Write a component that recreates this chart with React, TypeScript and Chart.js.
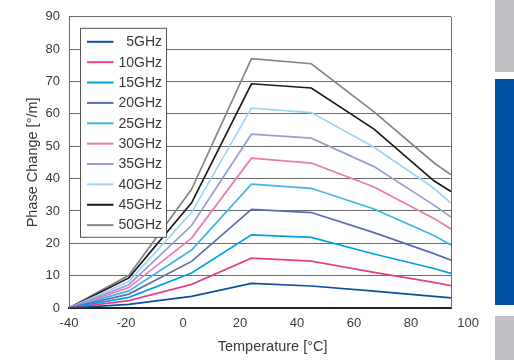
import React, { useEffect, useRef } from "react";
import { Chart, registerables } from "chart.js";

Chart.register(...registerables);

// ---- data ----
const temperatures = [-40, -19, 3, 24, 45, 67, 88, 94];
const seriesLabels = ["5GHz", "10GHz", "15GHz", "20GHz", "25GHz", "30GHz", "35GHz", "40GHz", "45GHz", "50GHz"];
const seriesColors = ["#0b4f9f", "#e6418b", "#00a2df", "#5a6db2", "#3db6e9", "#ee78ae", "#939fd6", "#a0d4f2", "#1a1a1a", "#858585"];
const s5 = [0, 1.1, 3.6, 7.6, 6.8, 5.2, 3.6, 3.1];
const s10 = [0, 2.3, 7.3, 15.4, 14.5, 11.0, 7.9, 6.9];
const s15 = [0, 3.3, 10.8, 22.6, 21.8, 16.7, 12.2, 10.7];
const s20 = [0, 4.3, 14.4, 30.5, 29.5, 23.3, 16.8, 14.8];
const s25 = [0, 5.3, 17.9, 38.3, 37.0, 30.6, 22.4, 19.5];
const s30 = [0, 6.3, 21.6, 46.3, 44.8, 37.4, 27.7, 24.4];
const s35 = [0, 7.2, 25.5, 53.7, 52.5, 43.7, 31.8, 28.1];
const s40 = [0, 8.2, 29.5, 61.8, 60.4, 49.7, 37.0, 32.4];
const s45 = [0, 9.3, 32.5, 69.3, 68.0, 55.3, 39.3, 36.0];
const s50 = [0, 10.1, 36.7, 77.1, 75.5, 60.6, 44.9, 41.2];
const seriesValues = [s5, s10, s15, s20, s25, s30, s35, s40, s45, s50];
const xTickValues = [-40, -20, 0, 20, 40, 60, 80, 100];
const yMin = 0;
const yMax = 90;
const yStep = 10;
const xMin = -40;
const xMax = 94;
const xTitle = "Temperature [°C]";
const yTitle = "Phase Change [°/m]";

const FONT = "'Liberation Sans', Arial, Helvetica, sans-serif";
const TEXT = "#3a3a3a";
const GRID = "#6b6b6b";

const decorPlugin = {
  id: "decor",
  beforeDatasetsDraw(chart: any) {
    const { ctx, chartArea } = chart;
    ctx.save();
    ctx.strokeStyle = GRID;
    ctx.lineWidth = 1;
    const x = Math.round(chartArea.right) + 0.5;
    ctx.beginPath();
    ctx.moveTo(x, chartArea.top);
    ctx.lineTo(x, chartArea.bottom);
    ctx.stroke();
    ctx.restore();
  },
  afterDraw(chart: any) {
    const { ctx, chartArea } = chart;
    ctx.save();
    // legend box
    const bx = chartArea.left + 11.5;
    const by = chartArea.top + 11.5;
    const bw = 86;
    const bh = 209;
    ctx.fillStyle = "#ffffff";
    ctx.fillRect(bx, by, bw, bh);
    ctx.strokeStyle = "#555555";
    ctx.lineWidth = 1;
    ctx.strokeRect(bx, by, bw, bh);
    ctx.font = `14px ${FONT}`;
    ctx.textAlign = "right";
    ctx.textBaseline = "middle";
    chart.data.datasets.forEach((ds: any, i: number) => {
      const y = by + 13.5 + i * 20.37;
      ctx.strokeStyle = ds.borderColor;
      ctx.lineWidth = 2;
      ctx.beginPath();
      ctx.moveTo(bx + 6.5, y);
      ctx.lineTo(bx + 33, y);
      ctx.stroke();
      ctx.fillStyle = TEXT;
      ctx.fillText(ds.label, bx + 81.5, y + 0.5);
    });
    // x axis title
    ctx.font = `14.5px ${FONT}`;
    ctx.textAlign = "center";
    ctx.textBaseline = "middle";
    ctx.fillStyle = TEXT;
    const cx = chartArea.left + (chartArea.right - chartArea.left) * 0.533;
    ctx.fillText(xTitle, cx, chart.height - 13.5);
    ctx.restore();
  },
};

export default function App() {
  const canvasRef = useRef<HTMLCanvasElement | null>(null);

  useEffect(() => {
    const canvas = canvasRef.current;
    if (!canvas) return;
    const chart = new Chart(canvas, {
      type: "line",
      data: {
        datasets: seriesLabels.map((label, i) => ({
          label,
          data: temperatures.map((t, j) => ({ x: t, y: seriesValues[i][j] })),
          borderColor: seriesColors[i],
          backgroundColor: seriesColors[i],
          borderWidth: 1.7,
          pointRadius: 0,
          tension: 0,
          fill: false,
        })),
      },
      options: {
        responsive: false,
        maintainAspectRatio: false,
        animation: false,
        layout: { padding: { left: 0, top: 10, right: 63, bottom: 0 } },
        plugins: {
          legend: { display: false },
          tooltip: { enabled: false },
        },
        scales: {
          x: {
            type: "linear",
            min: xMin,
            max: xMax,
            afterBuildTicks: (scale: any) => {
              scale.ticks = xTickValues.map((v) => ({ value: v }));
            },
            afterFit: (scale: any) => {
              scale.height = 52;
            },
            grid: { display: false, drawTicks: false },
            border: { display: true, color: "#222222", width: 2 },
            ticks: {
              autoSkip: false,
              maxRotation: 0,
              padding: 8,
              color: TEXT,
              font: { family: FONT, size: 13 },
            },
          },
          y: {
            min: yMin,
            max: yMax,
            afterFit: (scale: any) => {
              scale.width = 69;
            },
            grid: { color: GRID, lineWidth: 1, drawTicks: false },
            border: { display: true, color: GRID, width: 1 },
            ticks: {
              stepSize: yStep,
              padding: 9,
              color: TEXT,
              font: { family: FONT, size: 13 },
            },
            title: {
              display: true,
              text: yTitle,
              color: TEXT,
              font: { family: FONT, size: 14.5 },
              padding: { top: 24, bottom: 0 },
            },
          },
        },
      },
      plugins: [decorPlugin],
    });
    return () => chart.destroy();
  }, []);

  return (
    <div style={{ position: "fixed", left: 0, top: 0, width: 514, height: 360, background: "#ffffff" }}>
      <canvas ref={canvasRef} width={514} height={360} style={{ display: "block", position: "absolute", left: 0, top: 0 }} />
      <div style={{ position: "absolute", left: 495, top: 0, width: 19, height: 72, background: "#c1c1c5" }} />
      <div style={{ position: "absolute", left: 495, top: 79, width: 19, height: 226, background: "#0052a2" }} />
      <div style={{ position: "absolute", left: 495, top: 316, width: 19, height: 44, background: "#c1c1c5" }} />
    </div>
  );
}
